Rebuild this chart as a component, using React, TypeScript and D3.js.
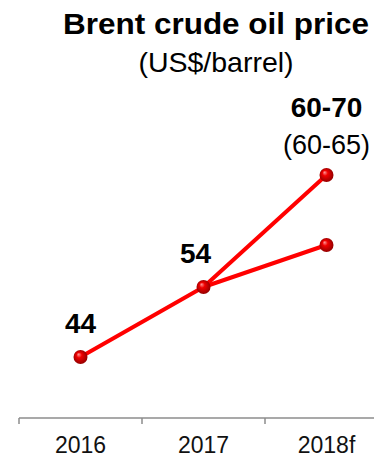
import React, { useEffect, useRef } from "react";
import * as d3 from "d3";

// data
const years = ["2016", "2017", "2018f"];
const actual = [44, 54];
const forecastHigh = 70;
const forecastLow = 60;
const pointLabels = ["44", "54", "60-70"];
const rangeNote = "(60-65)";

const W = 374;
const H = 457;
const FONT = "'Liberation Sans', Arial, sans-serif";

const App = () => {
  const ref = useRef<SVGSVGElement>(null);

  useEffect(() => {
    const svg = d3.select(ref.current);
    svg.selectAll("*").remove();

    const axisY = 418;

    const x = d3.scaleBand().domain(years).range([19, 388]);
    const y = d3.scaleLinear().domain([35, 75]).range([420, 140]);
    const cx = (d: string) => (x(d) as number) + x.bandwidth() / 2;

    // sphere gradient for the markers
    const defs = svg.append("defs");
    const grad = defs
      .append("radialGradient")
      .attr("id", "ball")
      .attr("cx", "50%")
      .attr("cy", "50%")
      .attr("r", "55%")
      .attr("fx", "35%")
      .attr("fy", "30%");
    grad.append("stop").attr("offset", "0%").attr("stop-color", "#ff9a9a");
    grad.append("stop").attr("offset", "35%").attr("stop-color", "#f00000");
    grad.append("stop").attr("offset", "100%").attr("stop-color", "#8a0000");

    // title
    svg
      .append("text")
      .attr("x", 216)
      .attr("y", 34)
      .attr("text-anchor", "middle")
      .attr("font-family", FONT)
      .attr("font-weight", "bold")
      .attr("font-size", 29)
      .attr("textLength", 306)
      .attr("lengthAdjust", "spacingAndGlyphs")
      .text("Brent crude oil price");

    svg
      .append("text")
      .attr("x", 216)
      .attr("y", 72)
      .attr("text-anchor", "middle")
      .attr("font-family", FONT)
      .attr("font-size", 28.5)
      .text("(US$/barrel)");

    // x axis
    const ax = svg.append("g").attr("stroke", "#8c8c8c").attr("stroke-width", 1.5);
    ax.append("line")
      .attr("x1", x.range()[0])
      .attr("x2", x.range()[1])
      .attr("y1", axisY)
      .attr("y2", axisY);
    ax.selectAll(".tick")
      .data(years)
      .enter()
      .append("line")
      .attr("x1", (d) => x(d) as number)
      .attr("x2", (d) => x(d) as number)
      .attr("y1", axisY)
      .attr("y2", axisY + 6);

    svg
      .selectAll(".xlabel")
      .data(years)
      .enter()
      .append("text")
      .attr("x", (d) => cx(d))
      .attr("y", 453)
      .attr("text-anchor", "middle")
      .attr("font-family", FONT)
      .attr("font-size", 23)
      .attr("fill", "#111")
      .text((d) => d);

    // lines
    const line = d3
      .line<[string, number]>()
      .x((d) => cx(d[0]))
      .y((d) => y(d[1]));

    const pts: [string, number][] = years.slice(0, 2).map((d, i) => [d, actual[i]]);
    const highPath: [string, number][] = [...pts, [years[2], forecastHigh]];
    const lowPath: [string, number][] = [pts[1], [years[2], forecastLow]];

    [highPath, lowPath].forEach((p) => {
      svg
        .append("path")
        .datum(p)
        .attr("d", line)
        .attr("fill", "none")
        .attr("stroke", "#ff0000")
        .attr("stroke-width", 4)
        .attr("stroke-linejoin", "round");
    });

    // markers
    const markers: [string, number][] = [...pts, [years[2], forecastHigh], [years[2], forecastLow]];
    svg
      .selectAll(".dot")
      .data(markers)
      .enter()
      .append("circle")
      .attr("cx", (d) => cx(d[0]))
      .attr("cy", (d) => y(d[1]))
      .attr("r", 7)
      .attr("fill", "url(#ball)");

    // value labels
    const labelVals = [actual[0], actual[1], forecastHigh];
    const dx = [0, -8, 0];
    const dy = [-24, -24, -58];
    svg
      .selectAll(".vlabel")
      .data(pointLabels)
      .enter()
      .append("text")
      .attr("x", (d, i) => cx(years[i]) + dx[i])
      .attr("y", (d, i) => y(labelVals[i]) + dy[i])
      .attr("text-anchor", "middle")
      .attr("font-family", FONT)
      .attr("font-weight", "bold")
      .attr("font-size", 28)
      .text((d) => d);

    svg
      .append("text")
      .attr("x", cx(years[2]))
      .attr("y", y(forecastHigh) - 21)
      .attr("text-anchor", "middle")
      .attr("font-family", FONT)
      .attr("font-size", 27)
      .text(rangeNote);
  }, []);

  return (
    <svg
      ref={ref}
      width={W}
      height={H}
      style={{ position: "absolute", left: 0, top: 0, background: "#fff" }}
    />
  );
};

export default App;
